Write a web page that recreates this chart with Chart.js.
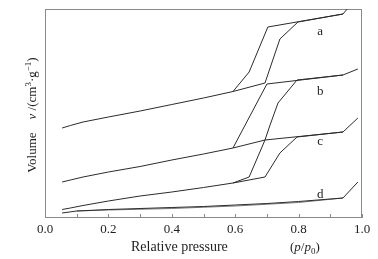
<!DOCTYPE html>
<html lang="en">
<head>
<meta charset="UTF-8">
<title>Isotherms</title>
<script src="https://cdn.jsdelivr.net/npm/chart.js"></script>
<style>
    body { margin: 0; background: #fff; }
    #box { width: 378px; height: 259px; }
</style>
</head>
<body>
<div id="box"><canvas id="grafico"></canvas></div>
<script>
// relative pressure (p/p0) and volume, curves shifted up so they do not pile up
var pAdsA = [0.054, 0.08, 0.12, 0.2, 0.3, 0.4, 0.5, 0.593, 0.694, 0.741, 0.798, 0.94, 0.956];
var vAdsA = [90, 92.5, 96, 101, 107, 113.5, 120, 126.5, 135, 179, 196, 204, 210];
var pDesA = [0.94, 0.703, 0.644, 0.593];
var vDesA = [204, 191, 146, 126.5];

var pAdsB = [0.054, 0.08, 0.12, 0.2, 0.3, 0.4, 0.5, 0.593, 0.694, 0.71, 0.735, 0.795, 0.94, 0.987];
var vAdsB = [36, 38, 41, 46, 51.5, 58, 64, 70, 78, 93, 115, 138, 143, 149];
var pDesB = [0.94, 0.70, 0.593];
var vDesB = [143, 134, 70];

var pAdsC = [0.054, 0.08, 0.12, 0.2, 0.3, 0.4, 0.5, 0.593, 0.694, 0.741, 0.795, 0.94, 0.987];
var vAdsC = [8.5, 10, 12.5, 17, 22, 26, 30.5, 35, 41, 65, 81, 86, 100];
var pDesC = [0.94, 0.694, 0.644, 0.593];
var vDesC = [86, 78, 41, 35];

var pAdsD = [0.054, 0.1, 0.2, 0.3, 0.4, 0.5, 0.6, 0.7, 0.8, 0.94, 0.987];
var vAdsD = [5, 7, 8.5, 9.5, 10.5, 11.5, 13, 14.5, 16.5, 20, 36];
var pDesD = [0.94, 0.8, 0.6, 0.4, 0.2, 0.1];
var vDesD = [20, 15.5, 12, 9.5, 8, 7];

var nomes = ['a', 'b', 'c', 'd'];
var nomeP = [0.868, 0.868, 0.868, 0.868];
var nomeV = [186, 126, 76, 23];

var fonte = '"Liberation Serif", "Times New Roman", serif';

function pontos(px, vy) {
    var lista = [];
    for (var i = 0; i < px.length; i++) {
        lista.push({ x: px[i], y: vy[i] });
    }
    return lista;
}

function linha(px, vy, cor) {
    return {
        data: pontos(px, vy),
        borderColor: cor || '#2b2b2b',
        borderWidth: 1,
        pointRadius: 0,
        tension: 0,
        fill: false
    };
}

// frame, inward ticks, curve names and axis titles
var extras = {
    id: 'extras',
    beforeDatasetsDraw: function (chart) {
        var ctx = chart.ctx;
        var a = chart.chartArea;
        ctx.save();
        ctx.strokeStyle = '#8a8a8a';
        ctx.lineWidth = 1;
        ctx.strokeRect(a.left + 0.5, a.top + 0.5, a.right - a.left - 1, a.bottom - a.top - 1);
        var sx = chart.scales.x;
        ctx.beginPath();
        sx.ticks.forEach(function (t) {
            var x = Math.round(sx.getPixelForValue(t.value)) + 0.5;
            ctx.moveTo(x, a.bottom);
            ctx.lineTo(x, a.bottom - 4);
        });
        ctx.stroke();
        ctx.restore();
    },
    afterDraw: function (chart) {
        var ctx = chart.ctx;
        var sx = chart.scales.x;
        var sy = chart.scales.y;
        ctx.save();
        ctx.fillStyle = '#1e1e1e';
        ctx.font = '13px ' + fonte;
        ctx.textAlign = 'center';
        ctx.textBaseline = 'middle';
        for (var i = 0; i < nomes.length; i++) {
            ctx.fillText(nomes[i], sx.getPixelForValue(nomeP[i]), sy.getPixelForValue(nomeV[i]));
        }

        // x title
        ctx.textAlign = 'left';
        ctx.textBaseline = 'alphabetic';
        var pecasX = [
            ['Relative pressure', '14px ', 0, 131],
            ['(', '13px ', 0, 290],
            ['p', 'italic 13px ', 0, null],
            ['/', '13px ', 0, null],
            ['p', 'italic 13px ', 0, null],
            ['0', '9px ', 3, null],
            [')', '13px ', 0, null]
        ];
        var x = 0;
        pecasX.forEach(function (p) {
            ctx.font = p[1] + fonte;
            if (p[3] !== null) x = p[3];
            ctx.fillText(p[0], x, 251 + p[2]);
            x += ctx.measureText(p[0]).width;
        });

        // y title, rotated
        var pecasY = [
            ['Volume', '13px ', 0],
            ['    ', '13px ', 0],
            ['v', 'italic 13px ', 0],
            [' /(cm', '13px ', 0],
            ['3', '9px ', -5],
            ['\u00b7g', '13px ', 0],
            ['\u22121', '9px ', -5],
            [')', '13px ', 0]
        ];
        var total = 0;
        pecasY.forEach(function (p) {
            ctx.font = p[1] + fonte;
            total += ctx.measureText(p[0]).width;
        });
        ctx.translate(36, 115);
        ctx.rotate(-Math.PI / 2);
        var pos = -total / 2;
        pecasY.forEach(function (p) {
            ctx.font = p[1] + fonte;
            ctx.fillText(p[0], pos, p[2]);
            pos += ctx.measureText(p[0]).width;
        });
        ctx.restore();
    }
};

new Chart(document.getElementById('grafico'), {
    type: 'line',
    data: {
        datasets: [
            linha(pAdsA, vAdsA), linha(pDesA, vDesA),
            linha(pAdsB, vAdsB), linha(pDesB, vDesB),
            linha(pAdsC, vAdsC), linha(pDesC, vDesC),
            linha(pAdsD, vAdsD), linha(pDesD, vDesD, '#7a7a7a')
        ]
    },
    options: {
        responsive: true,
        maintainAspectRatio: false,
        animation: false,
        layout: { padding: { left: 45, right: 16, top: 9, bottom: 0 } },
        plugins: {
            legend: { display: false },
            tooltip: { enabled: false }
        },
        scales: {
            x: {
                type: 'linear',
                min: 0,
                max: 1,
                grid: { display: false, drawTicks: false },
                border: { display: false },
                ticks: {
                    stepSize: 0.1,
                    padding: 4,
                    color: '#1e1e1e',
                    font: { family: fonte, size: 13 },
                    maxRotation: 0,
                    autoSkip: false,
                    callback: function (valor) {
                        var i = Math.round(valor * 10);
                        return i % 2 == 0 ? (i / 10).toFixed(1) : '';
                    }
                },
                afterFit: function (escala) { escala.height = 41; }
            },
            y: {
                display: false,
                min: 0,
                max: 209
            }
        }
    },
    plugins: [extras]
});
</script>
</body>
</html>
